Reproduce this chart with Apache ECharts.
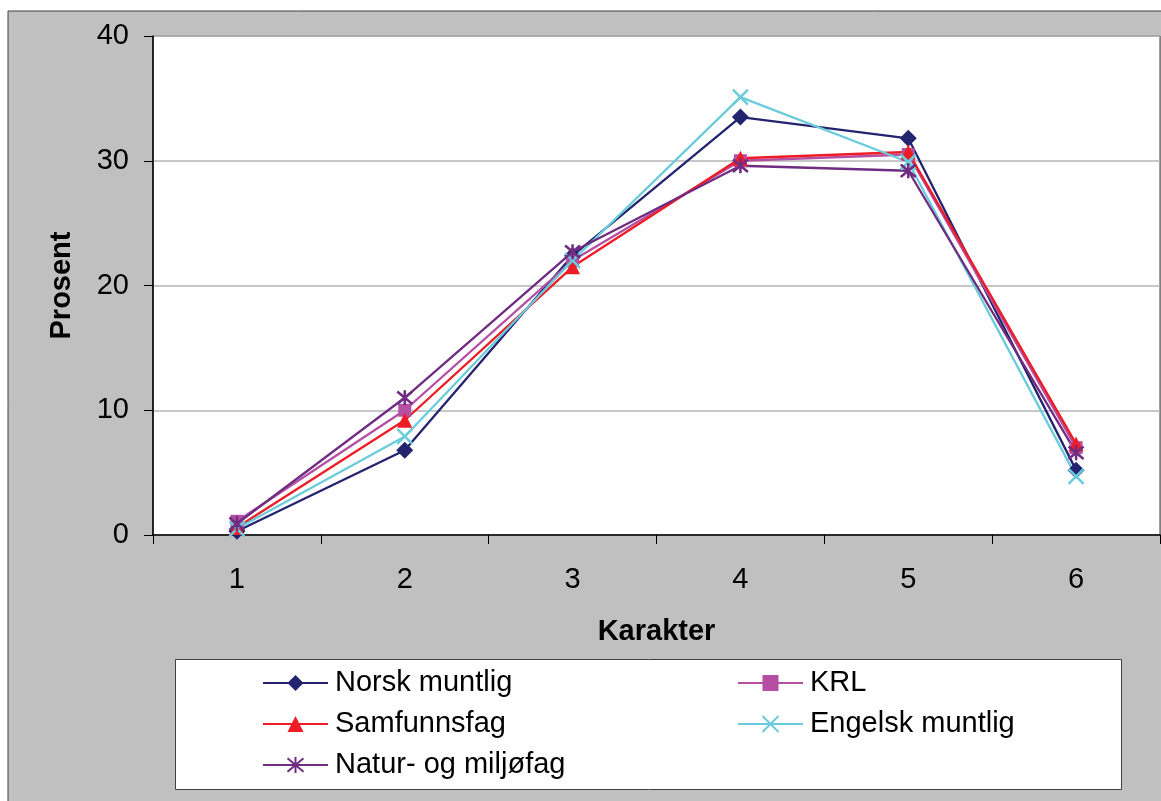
<!DOCTYPE html>
<html>
<head>
<meta charset="utf-8">
<script src="https://cdn.jsdelivr.net/npm/echarts@6/dist/echarts.min.js"></script>
<style>
  html, body { margin: 0; padding: 0; background: #fff; }
  #main { width: 1161px; height: 801px; }
</style>
</head>
<body>
<div id="main"></div>
<script>
// grades on the x axis
var karakter = ['1', '2', '3', '4', '5', '6'];

// percent per grade
var norskMuntlig = [0.3, 6.8, 22.4, 33.5, 31.8, 5.2];
var krl = [1.1, 10.0, 22.0, 30.0, 30.5, 7.0];
var samfunnsfag = [0.6, 9.2, 21.5, 30.2, 30.7, 7.3];
var engelskMuntlig = [0.5, 7.9, 22.0, 35.1, 29.9, 4.7];
var naturMiljofag = [0.9, 11.0, 22.7, 29.6, 29.2, 6.6];

var yTicks = [0, 10, 20, 30, 40];

var font = '"Liberation Sans", Arial, sans-serif';

function makeSeries(name, data, color, symbol, size, hollow) {
    return {
        name: name,
        type: 'line',
        data: data,
        symbol: symbol,
        symbolSize: size,
        showAllSymbol: true,
        lineStyle: { color: color, width: 2.3 },
        itemStyle: hollow
            ? { color: 'rgba(0,0,0,0)', borderColor: color, borderWidth: 2.5 }
            : { color: color, borderWidth: 0 },
        emphasis: { disabled: true }
    };
}

var xPath = 'path://M0 0L10 10M10 0L0 10';
var starPath = 'path://M0 0L10 10M10 0L0 10M5 -1L5 11';

var chart = echarts.init(document.getElementById('main'));
var option = {
    animation: false,
    backgroundColor: '#ffffff',
    graphic: [
        {
            type: 'rect',
            z: -100,
            shape: { x: 8, y: 11, width: 1200, height: 900 },
            style: { fill: '#c0c0c0', stroke: '#404040', lineWidth: 1 }
        },
        {
            type: 'rect',
            z: -50,
            shape: { x: 175.5, y: 659.5, width: 946, height: 130 },
            style: { fill: '#ffffff', stroke: '#404040', lineWidth: 1 }
        }
    ],
    grid: {
        left: 153,
        top: 36,
        right: 1,
        bottom: 266,
        show: true,
        backgroundColor: '#ffffff',
        borderColor: '#404040',
        borderWidth: 1
    },
    legend: [
        {
            left: 262,
            top: 668,
            padding: 0,
            orient: 'vertical',
            itemWidth: 65,
            itemHeight: 20,
            itemGap: 11,
            textStyle: { fontFamily: font, fontSize: 29, color: '#000', lineHeight: 30, padding: [0, 0, 0, 2] },
            data: ['Norsk muntlig', 'Samfunnsfag', 'Natur- og miljøfag']
        },
        {
            left: 737,
            top: 668,
            padding: 0,
            orient: 'vertical',
            itemWidth: 65,
            itemHeight: 20,
            itemGap: 11,
            textStyle: { fontFamily: font, fontSize: 29, color: '#000', lineHeight: 30, padding: [0, 0, 0, 2] },
            data: ['KRL', 'Engelsk muntlig']
        }
    ],
    xAxis: {
        type: 'category',
        data: karakter,
        boundaryGap: true,
        name: 'Karakter',
        nameLocation: 'middle',
        nameGap: 82,
        nameTextStyle: { fontFamily: font, fontSize: 29, fontWeight: 'bold', color: '#000' },
        axisLine: { lineStyle: { color: '#000', width: 1.5 } },
        axisTick: { show: true, inside: false, length: 9, alignWithLabel: false, lineStyle: { color: '#000' } },
        axisLabel: { fontFamily: font, fontSize: 29, color: '#000', margin: 30 },
        splitLine: { show: false }
    },
    yAxis: {
        type: 'value',
        min: yTicks[0],
        max: yTicks[yTicks.length - 1],
        interval: 10,
        name: 'Prosent',
        nameLocation: 'middle',
        nameGap: 77,
        nameTextStyle: { fontFamily: font, fontSize: 29, fontWeight: 'bold', color: '#000' },
        axisLine: { show: true, lineStyle: { color: '#000', width: 1.5 } },
        axisTick: { show: true, inside: false, length: 9, lineStyle: { color: '#000' } },
        axisLabel: { fontFamily: font, fontSize: 29, color: '#000', margin: 24 },
        splitLine: { show: true, lineStyle: { color: '#b4b4b4', width: 1.5 } }
    },
    series: [
        makeSeries('Norsk muntlig', norskMuntlig, '#232370', 'diamond', 17, false),
        makeSeries('KRL', krl, '#b44fa4', 'rect', 13, false),
        makeSeries('Samfunnsfag', samfunnsfag, '#ee1c25', 'triangle', 15, false),
        makeSeries('Engelsk muntlig', engelskMuntlig, '#6accda', xPath, 15, true),
        makeSeries('Natur- og miljøfag', naturMiljofag, '#6f2c80', starPath, 15, true)
    ]
};
chart.setOption(option);
</script>
</body>
</html>
